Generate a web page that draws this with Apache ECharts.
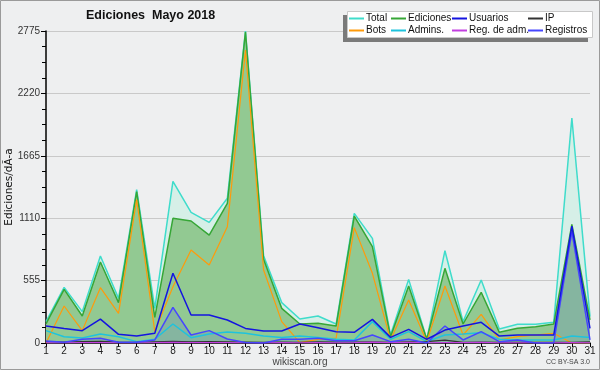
<!DOCTYPE html>
<html>
<head>
<meta charset="utf-8">
<script src="https://cdn.jsdelivr.net/npm/echarts@6/dist/echarts.min.js"></script>
<style>html,body{margin:0;padding:0;background:#eeeff0}#c{width:600px;height:370px}</style>
</head>
<body>
<div id="c"></div>
<script>
const days = ['1','2','3','4','5','6','7','8','9','10','11','12','13','14','15','16','17','18','19','20','21','22','23','24','25','26','27','28','29','30','31'];
const yTicks = [0, 555, 1110, 1665, 2220, 2775];
const total     = [190, 495, 279, 774, 397, 1365, 308, 1438, 1162, 1073, 1287, 2775, 775, 359, 213, 240, 169, 1153, 931, 71, 566, 33, 821, 190, 560, 124, 166, 166, 184, 2001, 234];
const ediciones = [170, 477, 240, 720, 359, 1346, 228, 1109, 1085, 960, 1242, 2765, 745, 308, 169, 175, 151, 1129, 857, 56, 507, 33, 664, 169, 451, 95, 131, 145, 169, 1056, 205];
const usuarios  = [151, 130, 110, 213, 77, 62, 86, 620, 249, 249, 205, 130, 107, 107, 169, 136, 101, 95, 210, 50, 121, 33, 115, 151, 184, 62, 71, 71, 71, 1040, 130];
const ip        = [10, 8, 12, 15, 8, 6, 10, 15, 10, 12, 10, 8, 6, 8, 6, 10, 8, 8, 10, 5, 10, 12, 25, 6, 8, 6, 6, 5, 5, 5, 10];
const bots      = [0, 329, 110, 492, 264, 1276, 101, 500, 827, 694, 1034, 2606, 649, 190, 3, 33, 44, 1026, 620, 27, 382, 12, 507, 71, 255, 27, 56, 71, 86, 0, 0];
const admins    = [110, 56, 44, 80, 56, 12, 33, 169, 47, 80, 98, 86, 62, 50, 62, 50, 33, 27, 190, 33, 101, 12, 71, 80, 92, 33, 27, 27, 27, 62, 50];
const regAdm    = [2, 2, 3, 4, 2, 2, 3, 5, 4, 3, 3, 2, 2, 3, 2, 3, 2, 4, 8, 3, 5, 2, 4, 3, 5, 2, 2, 2, 2, 3, 2];
const registros = [18, 6, 33, 42, 6, 6, 27, 317, 71, 110, 36, 5, 0, 33, 33, 42, 20, 20, 71, 12, 33, 0, 151, 27, 101, 12, 27, 0, 0, 990, 27];

const F = 'Liberation Sans';
const FD = 'DejaVu Sans';
function line(name, data, color, width, area) {
  const s = { name, type: 'line', data, symbol: 'none', color: color,
    lineStyle: { color, width }, itemStyle: { color }, emphasis: { disabled: true } };
  if (area) s.areaStyle = { color: area, opacity: 1 };
  return s;
}
function legendCol(left, names) {
  return { left, top: 13, orient: 'vertical', padding: 0, itemGap: 1, itemWidth: 15, itemHeight: 2,
    icon: 'rect', data: names, z: 10, selectedMode: false,
    textStyle: { fontFamily: F, fontSize: 10, color: '#111', lineHeight: 11, padding: [0,0,0,-3] } };
}
const chart = echarts.init(document.getElementById('c'));
chart.setOption({
  backgroundColor: '#eeeff0',
  animation: false,
  title: { text: 'Ediciones  Mayo 2018', left: 81, top: 4,
    textStyle: { fontFamily: F, fontSize: 12.5, fontWeight: 'bold', color: '#111' } },
  graphic: [
    { type: 'rect', z: 0, shape: { x: 0.5, y: 0.5, width: 599, height: 369 }, style: { fill: 'none', stroke: '#9a9a9a', lineWidth: 1 } },
    { type: 'rect', z: 5, shape: { x: 343, y: 15, width: 245, height: 27 }, style: { fill: '#7a7a7a' } },
    { type: 'rect', z: 6, shape: { x: 347.5, y: 11.5, width: 245, height: 26 }, style: { fill: '#ffffff', stroke: '#c8c8c8', lineWidth: 1 } },
    { type: 'text', z: 6, x: 300, y: 362, style: { text: 'wikiscan.org', fontFamily: F, fontSize: 10, fill: '#444', align: 'center', verticalAlign: 'middle' } },
    { type: 'text', z: 6, x: 590, y: 362, style: { text: 'CC BY-SA 3.0', fontFamily: F, fontSize: 7, fill: '#444', align: 'right', verticalAlign: 'middle' } }
  ],
  legend: [
    legendCol(349, ['Total', 'Bots']),
    legendCol(391, ['Ediciones', 'Admins.']),
    legendCol(452, ['Usuarios', 'Reg. de adm.']),
    legendCol(528, ['IP', 'Registros'])
  ],
  grid: { left: 46, right: 10, top: 31, bottom: 27, containLabel: false, outerBoundsMode: 'none' },
  xAxis: {
    type: 'category', data: days, boundaryGap: false,
    axisLine: { lineStyle: { color: '#000', width: 1.5 } },
    axisTick: { length: 4, lineStyle: { color: '#000' } },
    axisLabel: { fontFamily: F, fontSize: 10, color: '#222', margin: 3, interval: 0 },
    splitLine: { show: false }
  },
  yAxis: {
    type: 'value', min: yTicks[0], max: yTicks[yTicks.length - 1], interval: yTicks[1] - yTicks[0],
    name: 'Ediciones/dÃ-a', nameLocation: 'middle', nameGap: 31, nameMoveOverlap: false,
    nameTextStyle: { fontFamily: FD, fontSize: 10.5, color: '#111' },
    axisLine: { show: true, lineStyle: { color: '#000', width: 1.5 } },
    axisTick: { show: true, length: 5, lineStyle: { color: '#000' } },
    minorTick: { show: true, splitNumber: 4, length: 4, lineStyle: { color: '#000' } },
    axisLabel: { fontFamily: F, fontSize: 10, color: '#333', margin: 6, formatter: v => String(v) },
    splitLine: { lineStyle: { color: '#c9c9c9', width: 1 } }
  },
  series: [
    line('Total', total, '#3fdccb', 1.5, '#d6efe7'),
    line('Ediciones', ediciones, '#36a636', 1.5, '#92c992'),
    line('Bots', bots, '#ff9a0a', 1.2),
    line('Admins.', admins, '#1ec3dd', 1.5),
    line('IP', ip, '#333333', 1.2),
    line('Reg. de adm.', regAdm, '#c23fe0', 1.2),
    line('Registros', registros, '#4646ff', 1.5, 'rgba(50,50,255,0.13)'),
    line('Usuarios', usuarios, '#1414e0', 1.5)
  ]
});
</script>
</body>
</html>
